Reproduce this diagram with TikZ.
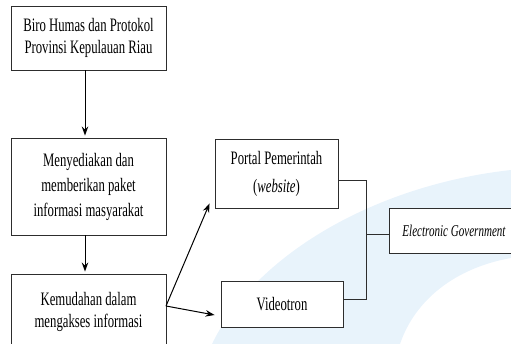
\documentclass[tikz,border=0pt]{standalone}
\usepackage{fontspec}
\setmainfont{Liberation Serif}[FakeStretch=0.67]
\usepackage{xcolor}
\usetikzlibrary{arrows.meta}
\definecolor{wmblue}{RGB}{214,233,248}
\definecolor{boxline}{RGB}{45,45,45}

\begin{document}
\begin{tikzpicture}[x=1pt, y=-1pt,
        box/.style={draw=boxline, line width=0.9pt, fill=white, align=center, inner sep=0pt,
            font=\fontsize{19}{22}\selectfont},
        arr/.style={-{Stealth[length=9pt,width=6.5pt]}, line width=1pt},
        link/.style={draw=boxline, line width=0.9pt}]
        \useasboundingbox (0,0) rectangle (511,344);
        \clip (0,0) rectangle (511,344);
        % faint watermark band
        \fill[wmblue, opacity=0.55] (212,344) .. controls (255,255) and (375,185) .. (511,170)
            -- (511,258) .. controls (455,268) and (415,300) .. (400,344) -- cycle;
        \node[box, minimum width=155, minimum height=64] (biro) at (88.5,38)
            {Biro Humas dan Protokol\\Provinsi Kepulauan Riau};
        \node[box, minimum width=155, minimum height=97] (paket) at (88.5,186.5)
            {Menyediakan dan\\[3pt]memberikan paket\\[3pt]informasi masyarakat};
        \node[box, minimum width=155, minimum height=76] (akses) at (88.5,312)
            {Kemudahan dalam\\mengakses informasi};
        \node[box, minimum width=123, minimum height=69] (portal) at (276.5,173.5)
            {Portal Pemerintah\\[6pt](\textit{website})};
        \node[box, minimum width=122, minimum height=46] (video) at (282,304) {Videotron};
        \node[box, minimum width=130, minimum height=45, font=\fontsize{16.5}{19}\selectfont\itshape]
            (egov) at (454,230.5) {Electronic Government};
        % arrows
        \draw[arr] ([xshift=-3.5pt]biro.south) -- ([xshift=-3.5pt,yshift=2pt]paket.north);
        \draw[arr] ([xshift=-3.5pt]paket.south) -- ([xshift=-3.5pt,yshift=2pt]akses.north);
        \coordinate (fork) at (166,306);
        \draw[arr] (fork) -- ([xshift=-5pt,yshift=5pt]portal.south west);
        \draw[arr] (fork) -- ([xshift=-6pt,yshift=-11pt]video.west);
        % bracket
        \coordinate (jt) at (366,180);
        \coordinate (jb) at (366,299);
        \coordinate (jm) at (366,234);
        \draw[link] (portal.east |- jt) -- (jt) -- (jb) -- (video.east |- jb);
        \draw[link] (jm) -- (egov.west |- jm);
    \end{tikzpicture}
\end{document}
